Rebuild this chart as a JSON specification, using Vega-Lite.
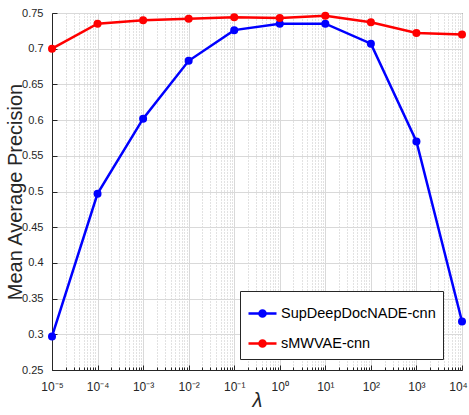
{
  "$schema": "https://vega.github.io/schema/vega-lite/v6.json",
  "width": 410,
  "height": 357,
  "autosize": {"type": "none"},
  "padding": {"left": 52, "top": 13, "right": 7, "bottom": 45},
  "background": "white",
  "config": {
    "font": "Liberation Sans",
    "view": {"stroke": "#262626", "strokeWidth": 1},
    "axis": {
      "labelFont": "Liberation Sans",
      "titleFont": "Liberation Sans",
      "labelColor": "#262626",
      "titleColor": "#262626",
      "domainColor": "#262626",
      "tickColor": "#262626",
      "labelFontSize": 11
    }
  },
  "data": {
    "values": [
      {"lambda": 0.00001, "model": "SupDeepDocNADE-cnn", "map": 0.297},
      {"lambda": 0.0001, "model": "SupDeepDocNADE-cnn", "map": 0.497},
      {"lambda": 0.001, "model": "SupDeepDocNADE-cnn", "map": 0.602},
      {"lambda": 0.01, "model": "SupDeepDocNADE-cnn", "map": 0.683},
      {"lambda": 0.1, "model": "SupDeepDocNADE-cnn", "map": 0.726},
      {"lambda": 1, "model": "SupDeepDocNADE-cnn", "map": 0.735},
      {"lambda": 10, "model": "SupDeepDocNADE-cnn", "map": 0.735},
      {"lambda": 100, "model": "SupDeepDocNADE-cnn", "map": 0.707},
      {"lambda": 1000, "model": "SupDeepDocNADE-cnn", "map": 0.570},
      {"lambda": 10000, "model": "SupDeepDocNADE-cnn", "map": 0.318},
      {"lambda": 0.00001, "model": "sMWVAE-cnn", "map": 0.700},
      {"lambda": 0.0001, "model": "sMWVAE-cnn", "map": 0.735},
      {"lambda": 0.001, "model": "sMWVAE-cnn", "map": 0.740},
      {"lambda": 0.01, "model": "sMWVAE-cnn", "map": 0.742},
      {"lambda": 0.1, "model": "sMWVAE-cnn", "map": 0.744},
      {"lambda": 1, "model": "sMWVAE-cnn", "map": 0.743},
      {"lambda": 10, "model": "sMWVAE-cnn", "map": 0.746},
      {"lambda": 100, "model": "sMWVAE-cnn", "map": 0.737},
      {"lambda": 1000, "model": "sMWVAE-cnn", "map": 0.722},
      {"lambda": 10000, "model": "sMWVAE-cnn", "map": 0.720}
    ]
  },
  "encoding": {
    "x": {
      "field": "lambda",
      "type": "quantitative",
      "scale": {"type": "log", "domain": [0.00001, 10000], "nice": false},
      "axis": {
        "title": "λ",
        "titleFontSize": 20,
        "titleFontStyle": "italic",
        "titleFontWeight": "normal",
        "titlePadding": -4,
        "values": [0.00001,0.00002,0.00003,0.00004,0.00005,0.00006,0.00007,0.00008,0.00009,
                   0.0001,0.0002,0.0003,0.0004,0.0005,0.0006,0.0007,0.0008,0.0009,
                   0.001,0.002,0.003,0.004,0.005,0.006,0.007,0.008,0.009,
                   0.01,0.02,0.03,0.04,0.05,0.06,0.07,0.08,0.09,
                   0.1,0.2,0.3,0.4,0.5,0.6,0.7,0.8,0.9,
                   1,2,3,4,5,6,7,8,9,
                   10,20,30,40,50,60,70,80,90,
                   100,200,300,400,500,600,700,800,900,
                   1000,2000,3000,4000,5000,6000,7000,8000,9000,
                   10000],
        "labelExpr": "datum.value==0.00001?'10⁻⁵':datum.value==0.0001?'10⁻⁴':datum.value==0.001?'10⁻³':datum.value==0.01?'10⁻²':datum.value==0.1?'10⁻¹':datum.value==1?'10⁰':datum.value==10?'10¹':datum.value==100?'10²':datum.value==1000?'10³':datum.value==10000?'10⁴':''",
        "labelFontSize": 12,
        "labelFlush": false,
        "labelOverlap": false,
        "labelPadding": 16,
        "labelOffset": {"condition": {"test": "datum.value == 10000", "value": -4}, "value": 0},
        "tickSize": {"condition": {"test": "indexof([0.00001,0.0001,0.001,0.01,0.1,1,10,100,1000,10000], datum.value) >= 0", "value": -5}, "value": -3},
        "grid": true,
        "gridColor": {"condition": {"test": "indexof([0.00001,0.0001,0.001,0.01,0.1,1,10,100,1000,10000], datum.value) >= 0", "value": "#d9d9d9"}, "value": "#c4c4c4"},
        "gridDash": {"condition": {"test": "indexof([0.00001,0.0001,0.001,0.01,0.1,1,10,100,1000,10000], datum.value) >= 0", "value": []}, "value": [1, 2]},
        "gridWidth": 1
      }
    },
    "y": {
      "field": "map",
      "type": "quantitative",
      "scale": {"domain": [0.25, 0.75], "nice": false, "zero": false},
      "axis": {
        "title": "Mean Average Precision",
        "titleFontSize": 20,
        "titleFontWeight": "normal",
        "titlePadding": -4,
        "values": [0.25,0.3,0.35,0.4,0.45,0.5,0.55,0.6,0.65,0.7,0.75],
        "format": "~g",
        "tickSize": -5,
        "labelPadding": 14,
        "grid": true,
        "gridColor": "#d9d9d9"
      }
    },
    "color": {
      "field": "model",
      "type": "nominal",
      "scale": {"domain": ["SupDeepDocNADE-cnn", "sMWVAE-cnn"], "range": ["#0000ff", "#ff0000"]},
      "legend": {
        "title": null,
        "orient": "none",
        "legendX": 188,
        "legendY": 278,
        "direction": "vertical",
        "fillColor": "white",
        "strokeColor": "#262626",
        "padding": 7,
        "rowPadding": 6,
        "labelFontSize": 14.5,
        "labelLimit": 400,
        "labelFont": "Liberation Sans",
        "labelColor": "black",
        "symbolType": "M-1,0L1,0M-0.22,0A0.22,0.22,0,1,0,0.22,0A0.22,0.22,0,1,0,-0.22,0Z",
        "symbolSize": 784,
        "symbolStrokeWidth": 2.5,
        "symbolOpacity": 1,
        "labelOffset": 3
      }
    }
  },
  "layer": [
    {"mark": {"type": "line", "strokeWidth": 2.5}},
    {"mark": {"type": "point", "filled": true, "size": 64, "opacity": 1}}
  ]
}
